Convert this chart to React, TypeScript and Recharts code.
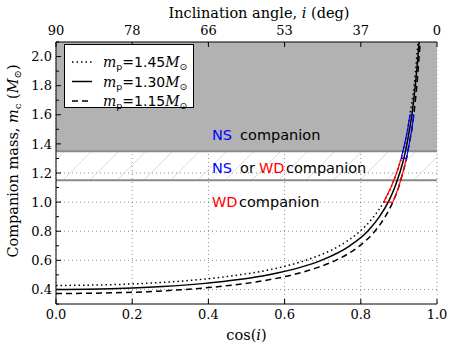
import { LineChart, Line, XAxis, YAxis, CartesianGrid, ReferenceArea, ReferenceLine } from "recharts";

// cos(i) ticks, bottom labels and matching inclination angles for the top axis
const cosTicks = [0, 0.2, 0.4, 0.6, 0.8, 1.0];
const angleLabels = ["90", "78", "66", "53", "37", "0"];
const massTicks = [0.3, 0.4, 0.5, 0.6, 0.7, 0.8, 0.9, 1.0, 1.1, 1.2, 1.3, 1.4, 1.5, 1.6, 1.7, 1.8, 1.9, 2.0, 2.1];
const massLabels = [0.4, 0.6, 0.8, 1.0, 1.2, 1.4, 1.6, 1.8, 2.0];

// companion mass curves
const cos145 = [0, 0.172, 0.257, 0.342, 0.421, 0.481, 0.586, 0.655, 0.744, 0.798, 0.834, 0.86, 0.879, 0.894, 0.906, 0.915, 0.923, 0.929, 0.94, 0.947, 0.95];
const mass145 = [0.427, 0.435, 0.445, 0.46, 0.48, 0.5, 0.55, 0.6, 0.7, 0.8, 0.9, 1.0, 1.1, 1.2, 1.3, 1.4, 1.5, 1.6, 1.8, 2.0, 2.1];
const cos130 = [0, 0.143, 0.201, 0.28, 0.384, 0.485, 0.556, 0.639, 0.696, 0.771, 0.818, 0.849, 0.872, 0.889, 0.902, 0.913, 0.921, 0.928, 0.934, 0.943, 0.95, 0.953];
const mass130 = [0.4, 0.405, 0.41, 0.42, 0.44, 0.47, 0.5, 0.55, 0.6, 0.7, 0.8, 0.9, 1.0, 1.1, 1.2, 1.3, 1.4, 1.5, 1.6, 1.8, 2.0, 2.1];
const cos115 = [0, 0.156, 0.241, 0.34, 0.429, 0.521, 0.62, 0.686, 0.734, 0.797, 0.837, 0.864, 0.884, 0.899, 0.91, 0.92, 0.927, 0.934, 0.939, 0.947, 0.953, 0.956];
const mass115 = [0.372, 0.377, 0.385, 0.4, 0.42, 0.45, 0.5, 0.55, 0.6, 0.7, 0.8, 0.9, 1.0, 1.1, 1.2, 1.3, 1.4, 1.5, 1.6, 1.8, 2.0, 2.1];

// WD (red) and NS (blue) boxes between the outer curves
const wdBoxCos = [0.86, 0.879, 0.894, 0.906, 0.92, 0.91, 0.899, 0.884, 0.86];
const wdBoxMass = [1.0, 1.1, 1.2, 1.3, 1.3, 1.2, 1.1, 1.0, 1.0];
const nsBoxCos = [0.906, 0.915, 0.923, 0.929, 0.939, 0.934, 0.927, 0.92, 0.906];
const nsBoxMass = [1.3, 1.4, 1.5, 1.6, 1.6, 1.5, 1.4, 1.3, 1.3];

const toPoints = (xs: number[], ys: number[]) => xs.map((x, i) => ({ x, y: ys[i] }));

const SERIF = "DejaVu Serif";
const SANS = "DejaVu Sans";

const LeftTick = (props: any) => {
  const { x, y, payload } = props;
  const major = massLabels.includes(payload.value);
  return (
    <g>
      <line x1={x + 4} x2={x + (major ? 9 : 7)} y1={y} y2={y} stroke="#000" />
      {major && (
        <text x={x} y={y} dy="0.36em" textAnchor="end" style={{ fontFamily: SERIF, fontSize: 13 }} fill="#000">
          {payload.value.toFixed(1)}
        </text>
      )}
    </g>
  );
};

const RightTick = (props: any) => {
  const { x, y, payload } = props;
  const major = massLabels.includes(payload.value);
  return <line x1={x} x2={x - (major ? 5 : 3)} y1={y} y2={y} stroke="#000" />;
};

const BottomTick = (props: any) => {
  const { x, y, payload } = props;
  return (
    <g>
      <line x1={x} x2={x} y1={y - 6} y2={y - 11} stroke="#000" />
      <text x={x} y={y} dy="0.71em" textAnchor="middle" style={{ fontFamily: SERIF, fontSize: 13 }} fill="#000">
        {payload.value.toFixed(1)}
      </text>
    </g>
  );
};

const TopTick = (props: any) => {
  const { x, y, payload } = props;
  return (
    <g>
      <line x1={x} x2={x} y1={y + 7} y2={y + 12} stroke="#000" />
      <text x={x} y={y} textAnchor="middle" style={{ fontFamily: SERIF, fontSize: 13 }} fill="#000">
        {angleLabels[cosTicks.indexOf(payload.value)]}
      </text>
    </g>
  );
};

const legendRows = [
  { label: "1.45", dash: "1.5 3" },
  { label: "1.30", dash: undefined },
  { label: "1.15", dash: "6 4" },
];

export default function App() {
  return (
    <div style={{ position: "absolute", left: 0, top: 0, width: 457, height: 352, background: "#fff" }}>
      <LineChart width={457} height={352} margin={{ top: 0, right: 20, bottom: 0, left: 0 }}>
        <defs>
          <pattern id="hatch" patternUnits="userSpaceOnUse" width={27} height={27}>
            <path d="M0,27 L27,0 M-3,3 L3,-3 M24,30 L30,24" stroke="#d4d4d4" strokeWidth={0.8} />
          </pattern>
        </defs>
        <XAxis dataKey="x" type="number" domain={[0, 1]} ticks={cosTicks} interval={0} height={48}
          tickSize={0} tickMargin={6} tick={<BottomTick />} stroke="#000" allowDataOverflow />
        <XAxis xAxisId="top" dataKey="x" orientation="top" type="number" domain={[0, 1]} ticks={cosTicks} interval={0}
          height={42} tickSize={0} tickMargin={7} tick={<TopTick />} stroke="#000" allowDataOverflow />
        <YAxis type="number" domain={[0.3, 2.1]} ticks={massTicks} interval={0} width={56}
          tickSize={0} tickMargin={4} tick={<LeftTick />} stroke="#000" allowDataOverflow />
        <YAxis yAxisId="right" orientation="right" type="number" domain={[0.3, 2.1]} ticks={massTicks}
          interval={0} width={0} tickSize={0} tickMargin={0} tick={<RightTick />} stroke="#000" allowDataOverflow />
        <ReferenceArea y1={1.35} y2={2.1} fill="#b2b2b2" fillOpacity={1} stroke="none" ifOverflow="hidden" />
        <ReferenceArea y1={1.15} y2={1.35} fill="url(#hatch)" fillOpacity={1} stroke="none" />
        <ReferenceLine y={1.35} stroke="#8a8a8a" strokeWidth={2} />
        <ReferenceLine y={1.15} stroke="#8a8a8a" strokeWidth={2} />
        <CartesianGrid stroke="#000" strokeOpacity={0.45} strokeDasharray="1 3" horizontalValues={massLabels} verticalValues={cosTicks} />
        <Line data={toPoints(cos145, mass145)} dataKey="y" type="monotone" stroke="#000" strokeWidth={1.5}
          strokeDasharray="1.5 3" dot={false} isAnimationActive={false} />
        <Line data={toPoints(cos130, mass130)} dataKey="y" type="monotone" stroke="#000" strokeWidth={1.5}
          dot={false} isAnimationActive={false} />
        <Line data={toPoints(cos115, mass115)} dataKey="y" type="monotone" stroke="#000" strokeWidth={1.5}
          strokeDasharray="6 4" dot={false} isAnimationActive={false} />
        <Line data={toPoints(wdBoxCos, wdBoxMass)} dataKey="y" type="linear" stroke="#ff0000" strokeWidth={1.2}
          dot={false} isAnimationActive={false} />
        <Line data={toPoints(nsBoxCos, nsBoxMass)} dataKey="y" xAxisId="top" yAxisId="right" type="linear"
          stroke="#0000ff" strokeWidth={1.2} dot={false} isAnimationActive={false} />
      </LineChart>
      <svg width={457} height={352} style={{ position: "absolute", left: 0, top: 0, pointerEvents: "none" }}>
        <text x={259} y={18} textAnchor="middle" fontFamily={SERIF} fontSize={14.5}>
          Inclination angle, <tspan fontStyle="italic">i</tspan> (deg)
        </text>
        <text x={246.5} y={340} textAnchor="middle" fontFamily={SERIF} fontSize={14.5}>
          cos(<tspan fontStyle="italic">i</tspan>)
        </text>
        <text transform="translate(18,161) rotate(-90)" textAnchor="middle" fontFamily={SERIF} fontSize={14.5}>
          Companion mass, <tspan fontStyle="italic">m</tspan>
          <tspan fontSize={10} dy={3}>c</tspan>
          <tspan dy={-3}> (</tspan>
          <tspan fontStyle="italic">M</tspan>
          <tspan fontSize={10} dy={3}>⊙</tspan>
          <tspan dy={-3}>)</tspan>
        </text>
        <g fontFamily={SANS} fontSize={14.5}>
          <text x={212} y={140}>
            <tspan fill="#0000ff">NS</tspan>
            <tspan dx={8}>companion</tspan>
          </text>
          <text x={212} y={173}>
            <tspan fill="#0000ff">NS</tspan>
            <tspan dx={8}>or</tspan>
            <tspan dx={4} fill="#ff0000">WD</tspan>
            <tspan dx={1.5}>companion</tspan>
          </text>
          <text x={212} y={207}>
            <tspan fill="#ff0000">WD</tspan>
            <tspan dx={1.5}>companion</tspan>
          </text>
        </g>
        <rect x={64.5} y={44.5} width={129} height={63} fill="#fff" stroke="#000" />
        {legendRows.map((r, i) => {
          const yy = 62 + i * 19.5;
          return (
            <g key={r.label}>
              <line x1={72} x2={92} y1={yy} y2={yy} stroke="#000" strokeWidth={1.5} strokeDasharray={r.dash} />
              <text x={103} y={yy + 5} fontFamily={SANS} fontSize={14}>
                <tspan fontFamily={SERIF} fontStyle="italic">m</tspan>
                <tspan fontSize={9.5} dy={3}>p</tspan>
                <tspan dy={-3}>={r.label}</tspan>
                <tspan fontFamily={SERIF} fontStyle="italic">M</tspan>
                <tspan fontSize={9.5} dy={3}>⊙</tspan>
              </text>
            </g>
          );
        })}
      </svg>
    </div>
  );
}
